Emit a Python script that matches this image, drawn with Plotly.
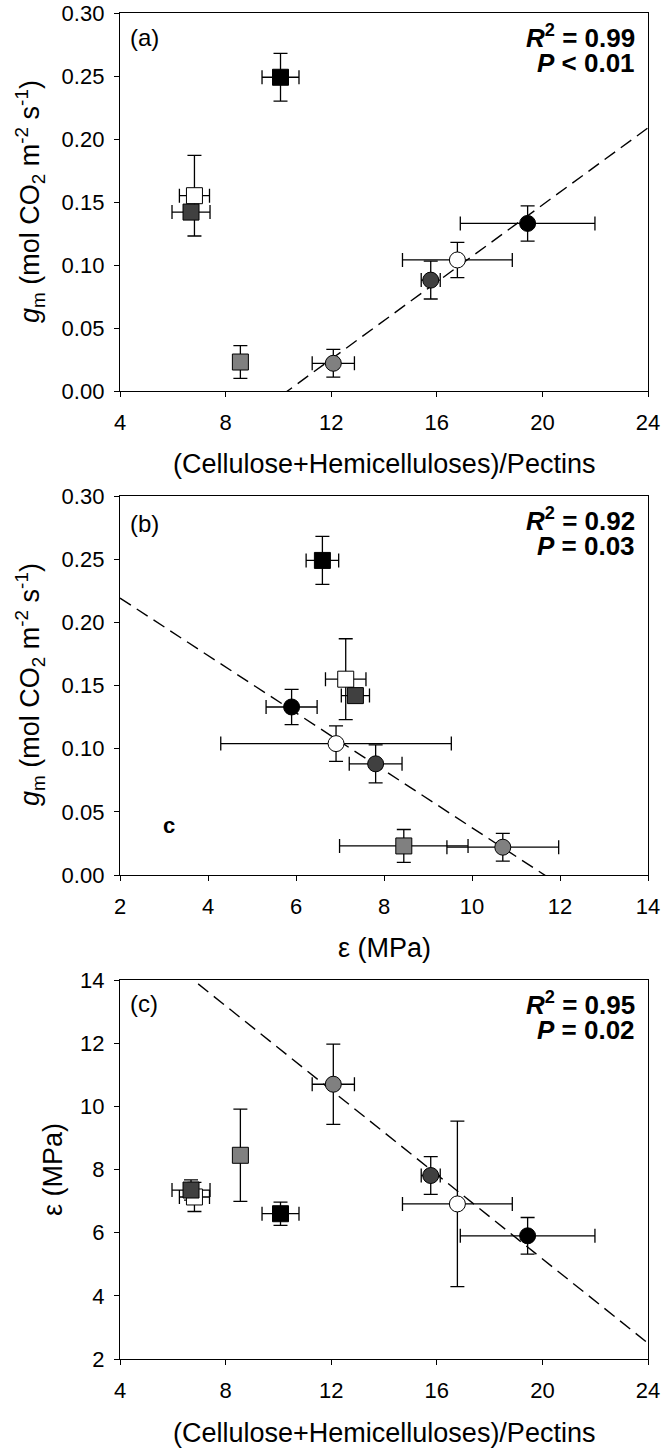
import numpy as np
import plotly.graph_objects as go

# ---- data (8 treatments: 4 squares, 4 circles) ----
symbols = ["square", "square", "square", "square", "circle", "circle", "circle", "circle"]
fills = ["#000000", "#ffffff", "#404040", "#808080", "#808080", "#404040", "#ffffff", "#000000"]

ratio = [10.08, 6.82, 6.69, 8.56, 12.08, 15.77, 16.78, 19.44]
ratio_err = [0.70, 0.57, 0.72, 0.15, 0.80, 0.36, 2.08, 2.55]
gm = [0.249, 0.155, 0.142, 0.023, 0.022, 0.088, 0.104, 0.133]
gm_err = [0.019, 0.032, 0.004, 0.013, 0.011, 0.015, 0.014, 0.014]
eps = [6.60, 7.13, 7.35, 8.45, 10.70, 7.81, 6.91, 5.90]
eps_err = [0.37, 0.46, 0.32, 1.46, 1.27, 0.60, 2.62, 0.58]

fit_idx = [4, 5, 6, 7]  # regression uses the circle treatments

stats_a = ["0.99", "&lt; 0.01"]
stats_b = ["0.92", "= 0.03"]
stats_c = ["0.95", "= 0.02"]

FONT = "Liberation Sans, Arial, sans-serif"
W, H = 661, 1449
L, R, T, B = 120, 13, 13, 90
PW, PH = W - L - R, H - T - B


def px(x):
    return (x - L) / PW


def py(y):
    return (H - B - y) / PH


fig = go.Figure()

panels = [
    ("x", "y", ratio, gm, ratio_err, gm_err, [4, 24], [0, 0.30]),
    ("x2", "y2", eps, gm, eps_err, gm_err, [2, 14], [0, 0.30]),
    ("x3", "y3", ratio, eps, ratio_err, eps_err, [4, 24], [2, 14]),
]

for xa, ya, xs, ys, xe, ye, xr, yr in panels:
    fx = np.array([xs[i] for i in fit_idx])
    fy = np.array([ys[i] for i in fit_idx])
    k, b0 = np.polyfit(fx, fy, 1)
    lx = np.linspace(xr[0], xr[1], 2)
    fig.add_trace(go.Scatter(
        x=lx, y=k * lx + b0, mode="lines", xaxis=xa, yaxis=ya,
        line=dict(color="black", width=1.4, dash="13px,7px"),
        showlegend=False, hoverinfo="skip"))
    fig.add_trace(go.Scatter(
        x=xs, y=ys, mode="markers", xaxis=xa, yaxis=ya,
        marker=dict(symbol=symbols, color=fills, size=16,
                    line=dict(color="black", width=1)),
        error_x=dict(type="data", array=xe, color="black", thickness=1.3, width=7),
        error_y=dict(type="data", array=ye, color="black", thickness=1.3, width=7),
        showlegend=False, cliponaxis=False))

axis_common = dict(showline=True, linecolor="black", linewidth=1.3, mirror=True,
                   ticks="outside", ticklen=5, tickwidth=1.3, tickcolor="black",
                   showgrid=False, zeroline=False, automargin=False,
                   tickfont=dict(family=FONT, size=22, color="black"))

dom_a = [py(391), 1.0]
dom_b = [py(875), py(496)]
dom_c = [0.0, py(980)]

fig.update_layout(
    width=W, height=H, margin=dict(l=L, r=R, t=T, b=B, autoexpand=False),
    plot_bgcolor="white", paper_bgcolor="white",
    xaxis=dict(axis_common, range=[4, 24], dtick=4, domain=[0, 1], anchor="y", ticklabelstandoff=6),
    yaxis=dict(axis_common, range=[0, 0.30], dtick=0.05, tickformat=".2f", domain=dom_a, anchor="x", ticklabelstandoff=5),
    xaxis2=dict(axis_common, range=[2, 14], dtick=2, domain=[0, 1], anchor="y2", ticklabelstandoff=6),
    yaxis2=dict(axis_common, range=[0, 0.30], dtick=0.05, tickformat=".2f", domain=dom_b, anchor="x2", ticklabelstandoff=5),
    xaxis3=dict(axis_common, range=[4, 24], dtick=4, domain=[0, 1], anchor="y3", ticklabelstandoff=6),
    yaxis3=dict(axis_common, range=[2, 14], dtick=2, domain=dom_c, anchor="x3", ticklabelstandoff=5),
)

ann = []


def add_text(text, x, y, size, xanchor="center", angle=0):
    ann.append(dict(text=text, x=px(x), y=py(y), xref="paper", yref="paper",
                    xanchor=xanchor, yanchor="middle", showarrow=False, textangle=angle,
                    font=dict(family=FONT, size=size, color="black")))


gm_title = "<i>g</i><sub>m</sub> (mol CO<sub>2</sub> m<sup>-2</sup> s<sup>-1</sup>)"
ratio_title = "(Cellulose+Hemicelluloses)/Pectins"
eps_title = "ε (MPa)"

# axis titles
add_text(ratio_title, 384, 464, 27)
add_text(eps_title, 384, 948, 27)
add_text(ratio_title, 384, 1433, 27)
add_text(gm_title, 30, 202, 27, angle=-90)
add_text(gm_title, 30, 685, 27, angle=-90)
add_text(eps_title, 53, 1170, 27, angle=-90)

# panel labels
add_text("(a)", 128, 37, 24, xanchor="left")
add_text("(b)", 128, 523, 24, xanchor="left")
add_text("(c)", 128, 1003, 24, xanchor="left")
add_text("<b>c</b>", 169, 825, 22)

# statistics
for st, top in [(stats_a, 13), (stats_b, 496), (stats_c, 980)]:
    add_text("<b><i>R</i><sup>2</sup> = %s</b>" % st[0], 637, top + 23, 26, xanchor="right")
    add_text("<b><i>P</i> %s</b>" % st[1], 637, top + 50, 26, xanchor="right")

fig.update_layout(annotations=ann)

fig.write_html("out.html", config={"displayModeBar": False},
               post_script="document.body.style.margin='0';document.body.style.overflow='hidden';")
